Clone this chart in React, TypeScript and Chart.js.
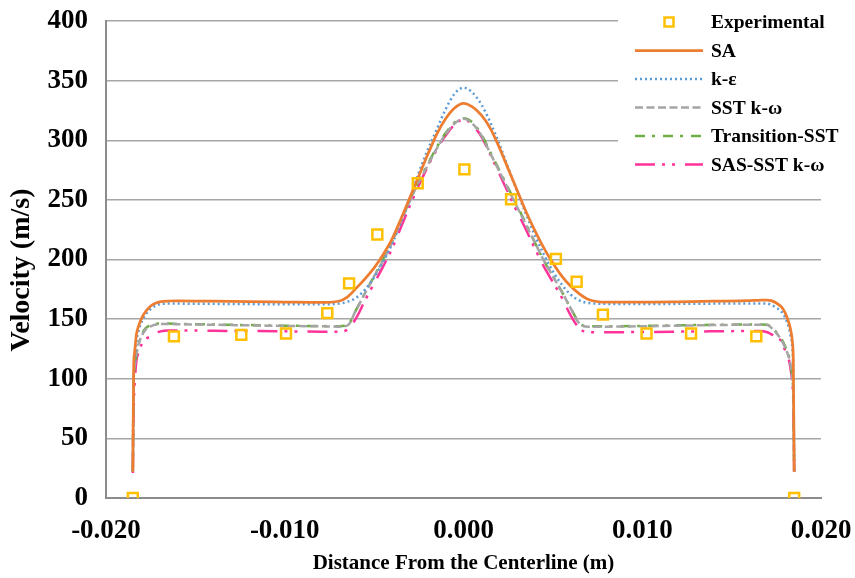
import React, { useEffect, useRef } from "react";
import { Chart, registerables } from "chart.js";

Chart.register(...registerables);

const FONT = "'Liberation Serif', 'Times New Roman', serif";

// Distance from centerline (m) for simulated profiles
const X = [
  -0.0185, -0.01845, -0.0184, -0.0183, -0.0182, -0.018, -0.0178, -0.0175, -0.0172, -0.017,
  -0.0165, -0.016, -0.014, -0.012, -0.01, -0.008, -0.007, -0.0065, -0.006, -0.0055,
  -0.005, -0.0045, -0.004, -0.0035, -0.003, -0.0025, -0.002, -0.0015, -0.001, -0.0005,
  0,
  0.0005, 0.001, 0.0015, 0.002, 0.0025, 0.003, 0.0035, 0.004, 0.0045, 0.005,
  0.0055, 0.006, 0.0065, 0.007, 0.008, 0.01, 0.012, 0.014, 0.016, 0.0165,
  0.017, 0.0172, 0.0175, 0.0178, 0.018, 0.0182, 0.0183, 0.0184, 0.01845, 0.0185,
];

const SA = [
  22, 110, 122, 137, 143, 151, 156, 161, 163.5, 164.5,
  165.2, 165.3, 165, 164.6, 164.3, 164, 165, 168.5, 176, 184,
  193, 204, 217, 234, 252, 270, 288, 305, 318, 327,
  331,
  328, 321, 310, 294, 276, 258, 240, 224, 209.5, 197,
  186, 177.5, 171, 166.5, 164.2, 164.2, 164.5, 165, 165.5, 165.8,
  166, 165.5, 163.5, 160, 155, 147, 141, 131, 115, 22,
];

const KE = [
  22, 100, 115, 131, 139, 148, 153.5, 158.5, 161.5, 162.5,
  163, 163, 162.8, 162.6, 162.5, 162.5, 163, 164.5, 168, 175,
  185, 198, 213, 231, 251, 273, 292, 309, 326, 339,
  344,
  340, 330, 315, 297, 277, 257, 238, 220, 204, 190,
  179, 170.5, 165.5, 163.5, 162.8, 162.6, 162.8, 163, 163.2, 163.2,
  163, 162, 159.5, 156, 151, 143, 136, 125, 105, 22,
];

const SST = [
  22, 100, 110, 121, 128, 136, 141, 144, 145.5, 146,
  146, 145.8, 145.3, 144.8, 144.3, 144, 143.7, 144.5, 158, 172,
  186, 199, 214, 232, 249, 265, 279, 293, 305, 314,
  318,
  314, 304, 289, 274, 259, 244, 229, 214, 199, 186,
  173, 159, 146, 143.6, 143.7, 144, 144.5, 145, 145.3, 145.3,
  145, 143, 138.5, 132, 126, 118, 112, 100, 90, 22,
];

const TRANS = [
  22, 98, 108, 120, 128, 137, 142, 145, 146, 146.5,
  146.3, 146, 145.5, 145, 144.5, 144.2, 144, 145, 158, 172,
  186, 200, 215, 233, 250, 266, 280, 294, 306, 315,
  318.5,
  315, 305, 290, 275, 260, 245, 230, 214, 199, 186,
  173, 159, 146.5, 144, 144, 144.3, 144.8, 145.2, 145.5, 145.5,
  145.2, 143.5, 139, 133, 127, 119, 112, 100, 85, 24,
];

const SAS = [
  21, 75, 95, 115, 121, 129, 133, 135.5, 138, 139.5,
  140.5, 140.5, 140.2, 140, 139.8, 139.5, 139.5, 141, 151, 166,
  180, 194, 209, 227, 245, 262, 278, 292, 304, 313,
  317.5,
  313, 303, 288, 272, 256, 240, 225, 209, 194, 181,
  168, 153, 142, 139, 139, 139.2, 139.5, 139.8, 140, 140,
  139, 137.5, 135, 131, 123.5, 116, 108, 95, 80, 22,
];

// Experimental measurements
const EXP_X = [
  -0.0185, -0.0162, -0.01243, -0.00993, -0.00762, -0.0064, -0.00482, -0.00256, 0.00005,
  0.00266, 0.00517, 0.00633, 0.0078, 0.01024, 0.01273, 0.01638, 0.0185,
];
const EXP_Y = [0, 135.5, 136.8, 138, 155, 180, 221, 264, 275.6, 250.5, 200.5, 181.3, 153.8, 138, 138, 135.5, 0];

const X_TICKS = [-0.02, -0.01, 0, 0.01, 0.02];
const Y_TICKS = [0, 50, 100, 150, 200, 250, 300, 350, 400];

const Y_TITLE = "Velocity (m/s)";
const X_TITLE = "Distance From the Centerline (m)";

const SERIES = [
  { label: "SA", data: SA, color: "#ED7D31", dash: [] as number[], width: 2.75 },
  { label: "k-ε", data: KE, color: "#5B9BD5", dash: [2, 3], width: 2.5 },
  { label: "SST k-ω", data: SST, color: "#A5A5A5", dash: [8, 3.5], width: 2.5 },
  { label: "Transition-SST", data: TRANS, color: "#70AD47", dash: [10, 7, 3, 8], width: 2.5 },
  { label: "SAS-SST k-ω", data: SAS, color: "#FF3399", dash: [20, 7, 3, 7, 3, 10], width: 2.5 },
];

export default function App() {
  const ref = useRef<HTMLCanvasElement>(null);

  useEffect(() => {
    document.body.style.margin = "0";
    const canvas = ref.current!;
    const legendPlugin = {
      id: "customLegend",
      afterDraw(chart: any) {
        const c = chart.ctx as CanvasRenderingContext2D;
        c.save();
        // y-axis title
        c.save();
        c.translate(22, 270);
        c.rotate(-Math.PI / 2);
        c.font = `bold 28px ${FONT}`;
        c.fillStyle = "#000";
        c.textAlign = "center";
        c.textBaseline = "middle";
        c.fillText(Y_TITLE, 0, 0);
        c.restore();
        // legend
        c.fillStyle = "#ffffff";
        c.fillRect(618, 0, 237, 188);
        c.font = `bold 19.5px ${FONT}`;
        c.textBaseline = "middle";
        c.textAlign = "left";
        const ds = chart.data.datasets;
        ds.forEach((d: any, i: number) => {
          const y = 22 + i * 28.5;
          if (d.showLine === false) {
            c.setLineDash([]);
            c.strokeStyle = d.borderColor;
            c.lineWidth = 2.5;
            c.strokeRect(664.5, y - 4.5, 9, 9);
          } else {
            c.setLineDash(d.borderDash || []);
            c.strokeStyle = d.borderColor;
            c.lineWidth = d.borderWidth;
            c.beginPath();
            c.moveTo(635, y);
            c.lineTo(703, y);
            c.stroke();
          }
          c.setLineDash([]);
          c.fillStyle = "#000";
          c.fillText(d.label, 711, y + 1);
        });
        c.restore();
      },
    };

    const datasets: any[] = [
      {
        label: "Experimental",
        data: EXP_X.map((x, i) => ({ x, y: EXP_Y[i] })),
        showLine: false,
        pointStyle: "rect",
        pointRadius: 7,
        pointBorderWidth: 2.5,
        borderColor: "#FFC000",
        backgroundColor: "rgba(255,255,255,0)",
        pointBackgroundColor: "rgba(255,255,255,0)",
        pointBorderColor: "#FFC000",
      },
      ...SERIES.map((s) => ({
        label: s.label,
        data: X.map((x, i) => ({ x, y: s.data[i] })),
        borderColor: s.color,
        backgroundColor: s.color,
        borderWidth: s.width,
        borderDash: s.dash,
        pointRadius: 0,
        fill: false,
        cubicInterpolationMode: "monotone",
      })),
    ];

    const chart = new Chart(canvas, {
      type: "line",
      data: { datasets },
      plugins: [legendPlugin],
      options: {
        animation: false,
        responsive: false,
        maintainAspectRatio: false,
        layout: { autoPadding: false, padding: { top: 21, right: 34, left: 0, bottom: 0 } },
        plugins: { legend: { display: false }, tooltip: { enabled: false } },
        scales: {
          x: {
            type: "linear",
            min: -0.02,
            max: 0.02,
            afterFit: (s: any) => {
              s.height = 80;
              s.paddingLeft = 0;
              s.paddingRight = 0;
            },
            afterBuildTicks: (s: any) => { s.ticks = X_TICKS.map((v) => ({ value: v })); },
            grid: { display: false, drawTicks: false },
            border: { display: true, color: "#8C8C8C", width: 2 },
            ticks: {
              padding: 17,
              color: "#000",
              font: { family: FONT, size: 27, weight: "bold" },
              callback: (v: any) => Number(v).toFixed(3),
            },
            title: {
              display: true,
              text: X_TITLE,
              color: "#000",
              font: { family: FONT, size: 21, weight: "bold" },
              padding: { top: 0, bottom: 2 },
            },
          },
          y: {
            type: "linear",
            min: 0,
            max: 400,
            afterFit: (s: any) => {
              s.width = 106;
              s.paddingTop = 0;
              s.paddingBottom = 0;
            },
            afterBuildTicks: (s: any) => { s.ticks = Y_TICKS.map((v) => ({ value: v })); },
            grid: { color: "#A6A6A6", lineWidth: 1.5, drawTicks: false },
            border: { display: true, color: "#8C8C8C", width: 2 },
            ticks: {
              padding: 18,
              color: "#000",
              font: { family: FONT, size: 27, weight: "bold" },
            },
            title: { display: false },
          },
        },
      } as any,
    });
    return () => chart.destroy();
  }, []);

  return (
    <div style={{ position: "absolute", left: 0, top: 0, width: 855, height: 578 }}>
      <canvas ref={ref} width={855} height={578} style={{ display: "block" }} />
    </div>
  );
}
